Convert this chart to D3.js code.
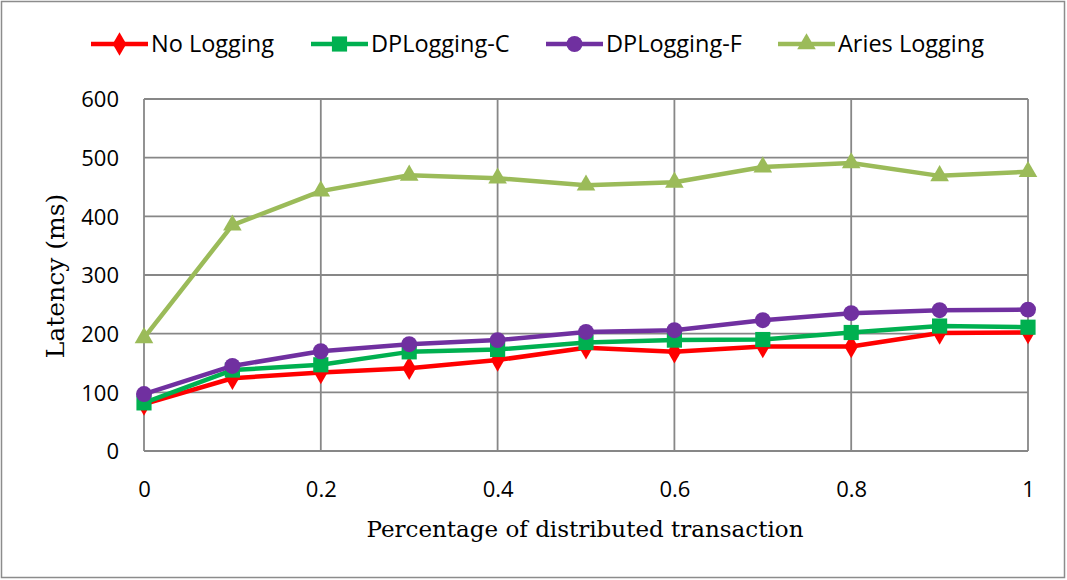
<!DOCTYPE html>
<html>
<head>
<meta charset="utf-8">
<script src="https://d3js.org/d3.v7.min.js"></script>
<style>
  body { margin: 0; background: #fff; }
  text { fill: #000; }
</style>
</head>
<body>
<script>
  // data
  var xs = [0, 0.1, 0.2, 0.3, 0.4, 0.5, 0.6, 0.7, 0.8, 0.9, 1];
  var seriesNames = ["No Logging", "DPLogging-C", "DPLogging-F", "Aries Logging"];
  var noLogging   = [80, 124, 134, 141, 155, 176, 169, 178, 178, 201, 202];
  var dpLoggingC  = [82, 138, 147, 169, 173, 185, 189, 190, 202, 213, 211];
  var dpLoggingF  = [97, 145, 170, 182, 189, 203, 206, 223, 235, 240, 241];
  var ariesLog    = [193, 385, 443, 470, 465, 453, 458, 484, 491, 469, 476];
  var yTicks = [0, 100, 200, 300, 400, 500, 600];
  var xTicks = [0, 0.2, 0.4, 0.6, 0.8, 1];

  var width = 1067, height = 580;
  var colors = ["#ff0000", "#00b050", "#7030a0", "#9bbb59"];
  var symbols = [d3.symbolDiamond, d3.symbolSquare, d3.symbolCircle, d3.symbolTriangle];
  var symSize = [160, 230, 200, 150];
  var all = [noLogging, dpLoggingC, dpLoggingF, ariesLog];
  var sansFont = "'Open Sans', sans-serif";
  var serifFont = "'DejaVu Serif', serif";

  var svg = d3.select("body").append("svg")
    .attr("width", width).attr("height", height);

  svg.append("rect")
    .attr("x", 1.5).attr("y", 1.5)
    .attr("width", width - 4).attr("height", height - 4)
    .attr("fill", "#fff").attr("stroke", "#8c8c8c").attr("stroke-width", 1.5);

  var x = d3.scaleLinear().domain([0, 1]).range([144, 1028]);
  var y = d3.scaleLinear().domain([0, 600]).range([451, 99]);

  var grid = svg.append("g").attr("stroke", "#878787").attr("stroke-width", 1.8);
  grid.selectAll(".hg").data(yTicks).enter().append("line")
    .attr("x1", x(0)).attr("x2", x(1))
    .attr("y1", d => y(d)).attr("y2", d => y(d));
  grid.selectAll(".vg").data(xTicks).enter().append("line")
    .attr("x1", d => x(d)).attr("x2", d => x(d))
    .attr("y1", y(0)).attr("y2", y(600));

  var yAxis = svg.append("g")
    .attr("transform", "translate(" + (x(0) - 25) + ",0)")
    .call(d3.axisLeft(y).tickValues(yTicks).tickSize(0).tickPadding(0));
  yAxis.select(".domain").remove();
  yAxis.selectAll("text")
    .attr("font-family", sansFont).attr("font-size", 22)
    .attr("dy", "0.36em");

  var xAxis = svg.append("g")
    .attr("transform", "translate(0," + (y(0) + 38) + ")")
    .call(d3.axisBottom(x).tickValues(xTicks).tickSize(0).tickPadding(0)
      .tickFormat(d => d3.format("")(d)));
  xAxis.select(".domain").remove();
  xAxis.selectAll("text")
    .attr("font-family", sansFont).attr("font-size", 22)
    .attr("dy", "0.36em");

  svg.append("text")
    .attr("transform", "translate(64," + (y(300) + 1) + ") rotate(-90)")
    .attr("text-anchor", "middle")
    .attr("font-family", serifFont).attr("font-size", 25)
    .text("Latency (ms)");

  svg.append("text")
    .attr("x", x(0.5) - 1).attr("y", 537)
    .attr("text-anchor", "middle")
    .attr("font-family", serifFont).attr("font-size", 23)
    .text("Percentage of distributed transaction");

  var line = d3.line().x((d, i) => x(xs[i])).y(d => y(d));

  all.forEach(function(vals, k) {
    var g = svg.append("g");
    g.append("path").datum(vals)
      .attr("d", line).attr("fill", "none")
      .attr("stroke", colors[k]).attr("stroke-width", 4.5)
      .attr("stroke-linejoin", "round");
    g.selectAll("path.m").data(vals).enter().append("path")
      .attr("class", "m")
      .attr("transform", (d, i) => "translate(" + x(xs[i]) + "," + y(d) + ")")
      .attr("d", d3.symbol().type(symbols[k]).size(symSize[k]))
      .attr("fill", colors[k]);
  });

  // legend
  var legX = [91, 311, 546, 778];
  var leg = svg.append("g");
  seriesNames.forEach(function(name, k) {
    var g = leg.append("g").attr("transform", "translate(" + legX[k] + ",44)");
    g.append("line").attr("x1", 0).attr("x2", 57)
      .attr("stroke", colors[k]).attr("stroke-width", 4.5);
    g.append("path").attr("transform", "translate(28.5,0)")
      .attr("d", d3.symbol().type(symbols[k]).size(symSize[k]))
      .attr("fill", colors[k]);
    g.append("text").attr("x", 60).attr("dy", "0.36em")
      .attr("font-family", sansFont).attr("font-size", 23.5)
      .text(name);
  });
</script>
</body>
</html>
